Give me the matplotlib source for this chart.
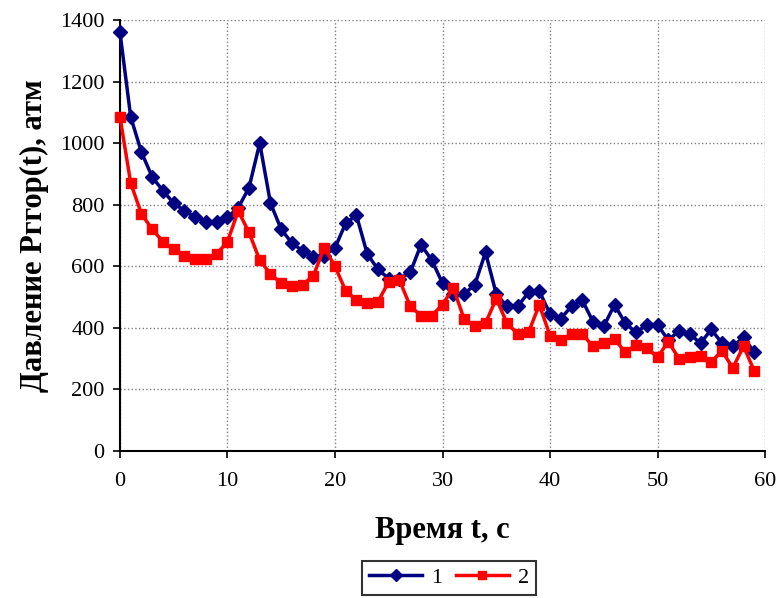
import numpy as np
import matplotlib
matplotlib.use("Agg")
import matplotlib.pyplot as plt

# Data
t = list(range(60))
p1 = [1360, 1085, 970, 890, 845, 805, 780, 760, 745, 745,
      760, 790, 855, 1000, 805, 720, 675, 650, 630, 635,
      660, 740, 765, 640, 590, 560, 560, 580, 670, 620,
      545, 510, 510, 540, 645, 510, 470, 470, 515, 520,
      445, 430, 470, 490, 420, 405, 475, 415, 385, 410,
      410, 360, 390, 380, 350, 395, 350, 340, 370, 320]
p2 = [1085, 870, 770, 720, 680, 655, 635, 625, 625, 640,
      680, 780, 710, 620, 575, 545, 535, 540, 570, 660,
      600, 520, 490, 480, 485, 550, 555, 470, 440, 440,
      475, 530, 430, 405, 415, 495, 415, 380, 385, 475,
      375, 360, 380, 380, 340, 350, 365, 320, 345, 335,
      305, 355, 300, 305, 310, 290, 325, 270, 340, 260]
series_names = ["1", "2"]
x_ticks = [0, 10, 20, 30, 40, 50, 60]
y_ticks = [0, 200, 400, 600, 800, 1000, 1200, 1400]

plt.rcParams['font.family'] = ['Liberation Serif', 'DejaVu Serif']

fig = plt.figure(figsize=(7.77, 5.98), dpi=100)
ax = fig.add_axes([0.1544, 0.2458, 0.8302, 0.7208])

ax.plot(t, p1, color='#000080', marker='D', markersize=7, linewidth=2.5,
        label=series_names[0], clip_on=False, zorder=3)
ax.plot(t, p2, color='#FF0000', marker='s', markersize=7, linewidth=2.5,
        label=series_names[1], clip_on=False, zorder=3)

ax.set_xlim(0, 60)
ax.set_ylim(0, 1400)
ax.set_xticks(x_ticks)
ax.set_yticks(y_ticks)
ax.grid(True, color='#808080', linestyle=':', linewidth=1)
ax.set_axisbelow(True)
for s in ['top', 'right']:
    ax.spines[s].set_visible(False)
for s in ['left', 'bottom']:
    ax.spines[s].set_linewidth(1.5)
ax.tick_params(axis='both', labelsize=16, width=1.2, length=5)
ax.tick_params(axis='x', pad=10)
ax.tick_params(axis='y', pad=6)

ax.set_xlabel("Время t, с", fontsize=22, fontweight='bold', labelpad=18)
ax.set_ylabel("Давление Рггор(t), атм", fontsize=22, fontweight='bold', labelpad=8)

leg = fig.legend(loc='upper center', bbox_to_anchor=(0.578, 0.062), ncol=2, fontsize=16,
                 frameon=True, fancybox=False, edgecolor='black', handlelength=2.4,
                 columnspacing=0.6, handletextpad=0.4, borderpad=0.3, borderaxespad=0,
                 markerscale=0.85)
leg.get_frame().set_linewidth(1.5)

fig.savefig("out.png", dpi=100)
